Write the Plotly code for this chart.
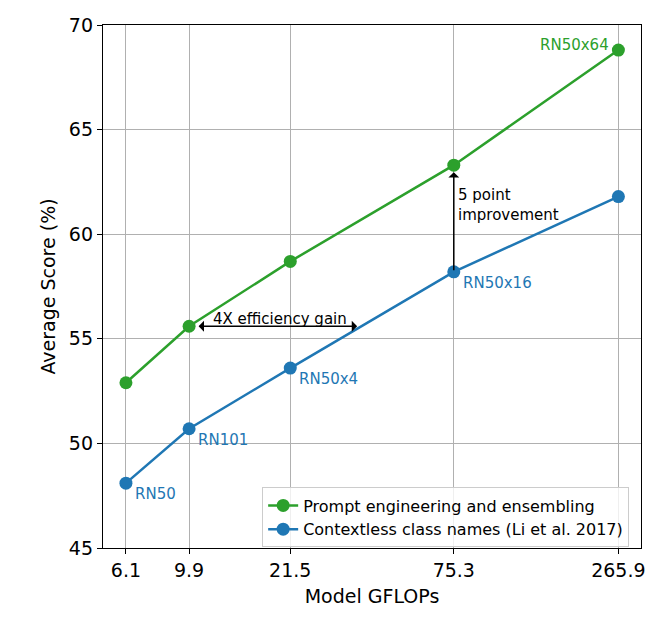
import math
import plotly.graph_objects as go

# --- data ---
gflops = [6.1, 9.9, 21.5, 75.3, 265.9]
tick_labels = ["6.1", "9.9", "21.5", "75.3", "265.9"]
prompt_scores = [52.9, 55.6, 58.7, 63.3, 68.8]
contextless_scores = [48.1, 50.7, 53.6, 58.2, 61.8]
model_names = ["RN50", "RN101", "RN50x4", "RN50x16", "RN50x64"]

GREEN = "#2ca02c"
BLUE = "#1f77b4"
FONT = "DejaVu Sans"

fig = go.Figure()

fig.add_trace(go.Scatter(
    x=gflops, y=prompt_scores, mode="lines+markers",
    name="Prompt engineering and ensembling",
    line=dict(color=GREEN, width=2.5),
    marker=dict(color=GREEN, size=13),
))
fig.add_trace(go.Scatter(
    x=gflops, y=contextless_scores, mode="lines+markers",
    name="Contextless class names (Li et al. 2017)",
    line=dict(color=BLUE, width=2.5),
    marker=dict(color=BLUE, size=13),
))

# model name labels
for i, name in enumerate(model_names):
    if name == "RN50x64":
        fig.add_annotation(x=math.log10(gflops[i]), y=prompt_scores[i], text=name,
                           showarrow=False, xanchor="right", yanchor="middle",
                           xshift=-7, yshift=5, font=dict(color=GREEN, size=15, family=FONT))
    else:
        fig.add_annotation(x=math.log10(gflops[i]), y=contextless_scores[i], text=name,
                           showarrow=False, xanchor="left", yanchor="middle",
                           xshift=7, yshift=-11, font=dict(color=BLUE, size=15, family=FONT))

# 4X efficiency gain arrow
gain_start = gflops[1]
gain_end = 35.9
fig.add_annotation(x=math.log10(gain_end), y=prompt_scores[1],
                   ax=math.log10(gain_start), ay=prompt_scores[1],
                   xref="x", yref="y", axref="x", ayref="y",
                   text="", showarrow=True, arrowside="end+start",
                   arrowhead=1, startarrowhead=1, arrowsize=1.2, startarrowsize=1.2,
                   arrowwidth=1.5, arrowcolor="black", startstandoff=8)
fig.add_annotation(x=math.log10(19.8), y=prompt_scores[1], text="4X efficiency gain",
                   showarrow=False, xanchor="center", yanchor="middle", yshift=7,
                   font=dict(color="black", size=15, family=FONT))

# 5 point improvement arrow
fig.add_annotation(x=math.log10(gflops[3]), y=prompt_scores[3],
                   ax=math.log10(gflops[3]), ay=contextless_scores[3],
                   xref="x", yref="y", axref="x", ayref="y",
                   text="", showarrow=True, arrowhead=1, arrowsize=1.2,
                   arrowwidth=1.5, arrowcolor="black", standoff=7)
fig.add_annotation(x=math.log10(gflops[3]), y=61.4, text="5 point<br>improvement",
                   showarrow=False, xanchor="left", yanchor="middle", align="left",
                   xshift=2, font=dict(color="black", size=15, family=FONT))

# page body adds an 8px offset, margins compensate for it
fig.update_layout(
    width=665, height=620,
    margin=dict(l=95, r=32, t=17, b=80),
    paper_bgcolor="white", plot_bgcolor="white",
    font=dict(family=FONT, size=19, color="black"),
    showlegend=True,
    legend=dict(
        x=0.978, y=0.001, xanchor="right", yanchor="bottom",
        bgcolor="rgba(255,255,255,0.8)", bordercolor="#cccccc", borderwidth=1,
        font=dict(size=16, family=FONT),
    ),
)

fig.update_xaxes(
    type="log", range=[0.709, 2.500], automargin=False,
    tickvals=gflops, ticktext=tick_labels,
    showgrid=True, gridcolor="#b0b0b0", gridwidth=1,
    showline=True, linecolor="black", linewidth=1.3, mirror=True,
    ticks="outside", ticklen=5, tickcolor="black",
    tickfont=dict(size=19, family=FONT),
    title=dict(text="Model GFLOPs", standoff=9, font=dict(size=19, family=FONT)),
    zeroline=False,
)
fig.update_yaxes(
    range=[45, 70], tickvals=[45, 50, 55, 60, 65, 70], automargin=False,
    showgrid=True, gridcolor="#b0b0b0", gridwidth=1,
    showline=True, linecolor="black", linewidth=1.3, mirror=True,
    ticks="outside", ticklen=5, tickcolor="black",
    tickfont=dict(size=19, family=FONT),
    title=dict(text="Average Score (%)", standoff=8, font=dict(size=19, family=FONT)),
    zeroline=False,
)

fig.write_html("out.html")
